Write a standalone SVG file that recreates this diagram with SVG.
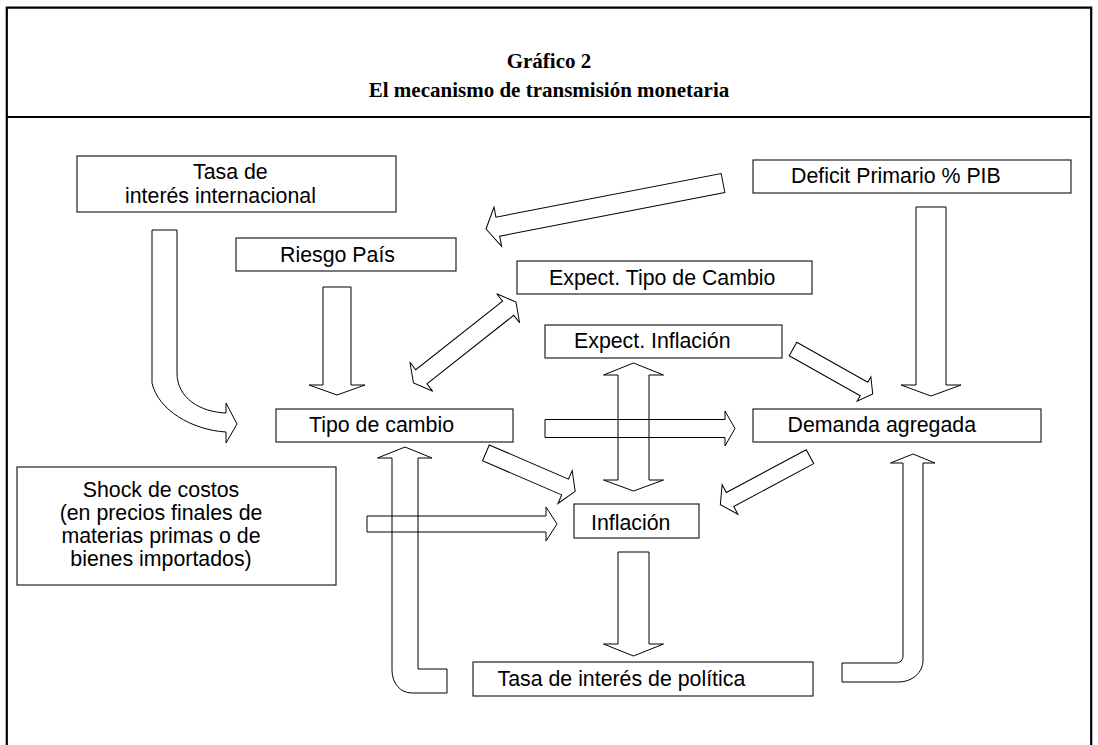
<svg xmlns="http://www.w3.org/2000/svg" width="1098" height="745" viewBox="0 0 1098 745">
<style>
.frame{fill:none;stroke:#000;stroke-width:2.2}
.box{fill:#fff;stroke:#222;stroke-width:1.2}
.arr{fill:none;stroke:#000;stroke-width:1}
.t{font-family:"Liberation Sans",Arial,sans-serif;font-size:21.33px;fill:#000}
.title{font-family:"Liberation Serif","Times New Roman",serif;font-size:21px;font-weight:bold;fill:#000;text-anchor:middle}
</style>
<rect width="1098" height="745" fill="#fff"/>
<g id="frame">
<polyline class="frame" points="6.8,745 6.8,7.7 1091.2,7.7 1091.2,745"/>
<line class="frame" x1="6.8" y1="117" x2="1091.2" y2="117"/>
<text class="title" x="549" y="68">Gráfico 2</text>
<text class="title" x="549" y="97">El mecanismo de transmisión monetaria</text>
</g>
<g id="connectors">
<path class="arr" d="M152,230 L177,230 L177,373 C177,398 200,412 226,413 L226,403 L237,424 L226,443 L226,432 C192,430 158,410 152,383 Z"/>
<polygon class="arr" points="323,287 351,287 351,385 365,385 337,395 309,385 323,385"/>
<polygon class="arr" transform="translate(723,183) rotate(169.02)" points="0,-9.7 229.4,-9.7 229.4,-20 241.4,0 229.4,20 229.4,9.7 0,9.7"/>
<polygon class="arr" points="916,207 946,207 946,385 961,385 931,396 901,385 916,385"/>
<polygon class="arr" transform="translate(413.5,383) rotate(-38.3)" points="0,0 10,-18.5 10,-9 120.6,-9 120.6,-18.5 130.6,0 120.6,18.5 120.6,9 10,9 10,18.5"/>
<polygon class="arr" transform="translate(793,349) rotate(29.4)" points="0,-7.7 81.5,-7.7 81.5,-14 91.5,0 81.5,14 81.5,7.7 0,7.7"/>
<polygon class="arr" points="633.5,363 663.5,375 649,375 649,480 663.5,480 633.5,491 603.5,480 618,480 618,375 603.5,375"/>
<polygon class="arr" points="545,419.5 725,419.5 725,411 735,428.5 725,446 725,437.5 545,437.5"/>
<polygon class="arr" transform="translate(485.9,452.9) rotate(23.3)" points="0,-8.6 86.2,-8.6 86.2,-18 97.2,0 86.2,18 86.2,8.6 0,8.6"/>
<polygon class="arr" transform="translate(810,456.7) rotate(151.85)" points="0,-7.9 90.7,-7.9 90.7,-16.7 101.7,0 90.7,16.7 90.7,7.9 0,7.9"/>
<polygon class="arr" points="367,516 546,516 546,507 557,524 546,541 546,532 367,532"/>
<polygon class="arr" points="618,552 649,552 649,644 663.5,644 633.5,656 603.5,644 618,644"/>
<path class="arr" d="M405,447 L432,458 L418,458 L418,669 L447,669 L447,693 L412,693 C400,693 392,683 392,670 L392,458 L377.5,458 Z"/>
<path class="arr" d="M913,454 L935,463 L923,463 L923,660 C923,673 912,682 898,682 L842,682 L842,663 L896,663 C900,663 903,660 903,656 L903,463 L890.5,463 Z"/>
</g>
<g id="tasa-internacional">
<rect class="box" x="77" y="156" width="319" height="56"/>
<text class="t" x="193" y="179">Tasa de</text>
<text class="t" x="125" y="203">interés internacional</text>
</g>
<g id="riesgo-pais">
<rect class="box" x="236" y="238" width="220" height="33"/>
<text class="t" x="280" y="262">Riesgo País</text>
</g>
<g id="deficit">
<rect class="box" x="753" y="160" width="318" height="33"/>
<text class="t" x="791" y="183">Deficit Primario % PIB</text>
</g>
<g id="expect-tipo-cambio">
<rect class="box" x="517" y="261" width="295" height="33"/>
<text class="t" x="549" y="285">Expect. Tipo de Cambio</text>
</g>
<g id="expect-inflacion">
<rect class="box" x="545" y="325" width="237" height="33"/>
<text class="t" x="574" y="348">Expect. Inflación</text>
</g>
<g id="tipo-cambio">
<rect class="box" x="276" y="409" width="237" height="33"/>
<text class="t" x="309" y="432">Tipo de cambio</text>
</g>
<g id="demanda">
<rect class="box" x="753" y="409" width="288" height="33"/>
<text class="t" x="787.5" y="432">Demanda agregada</text>
</g>
<g id="shock">
<rect class="box" x="17" y="467" width="319" height="118"/>
<text class="t" x="161" y="497" text-anchor="middle">Shock de costos</text>
<text class="t" x="161" y="520" text-anchor="middle">(en precios finales de</text>
<text class="t" x="161" y="543" text-anchor="middle">materias primas o de</text>
<text class="t" x="161" y="566" text-anchor="middle">bienes importados)</text>
</g>
<g id="inflacion">
<rect class="box" x="574" y="504" width="125" height="34"/>
<text class="t" x="591" y="530">Inflación</text>
</g>
<g id="tasa-politica">
<rect class="box" x="473" y="662" width="340" height="34"/>
<text class="t" x="497.5" y="686">Tasa de interés de política</text>
</g>
</svg>
